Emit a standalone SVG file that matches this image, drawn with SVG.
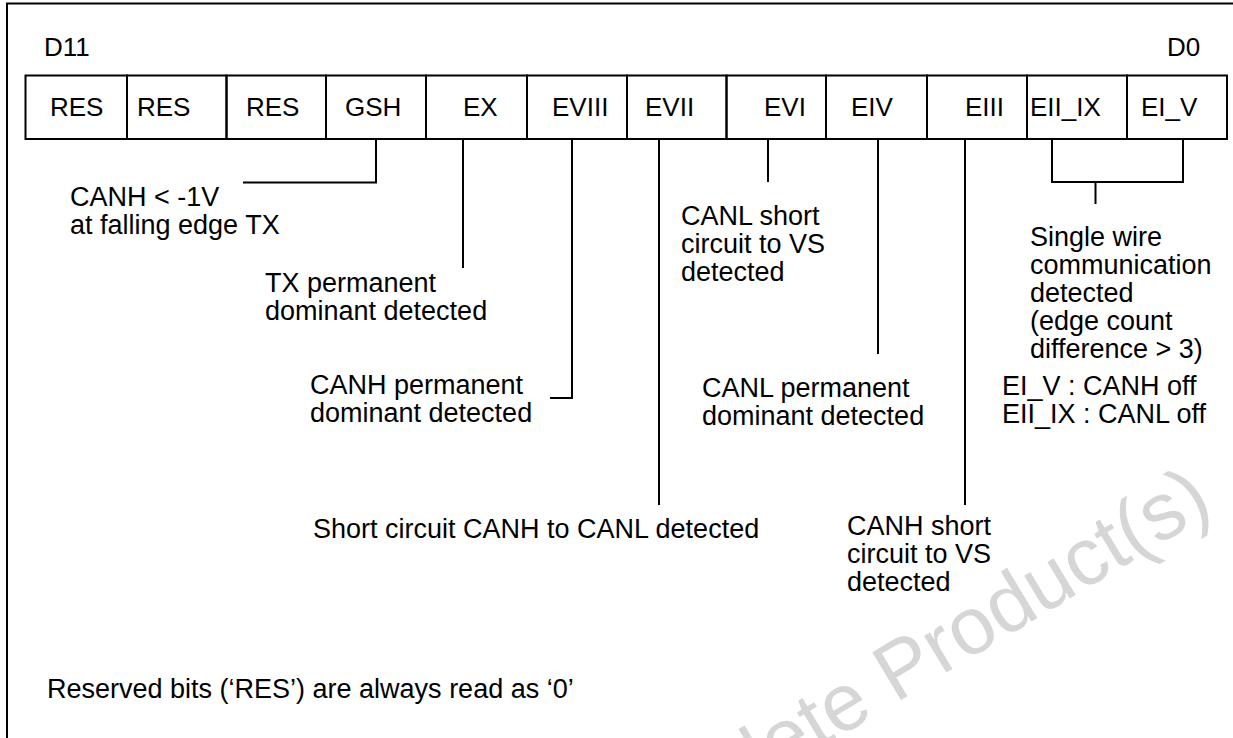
<svg xmlns="http://www.w3.org/2000/svg" width="1233" height="738" viewBox="0 0 1233 738">
<style>
text{font-family:"Liberation Sans",Arial,sans-serif;font-size:27px;fill:#000}
.cl{font-size:26px}
.cell{fill:none;stroke:#000;stroke-width:2}
.ln{fill:none;stroke:#000;stroke-width:2}
.wm{font-size:81px;fill:#d6d6d6}
</style>
<rect width="1233" height="738" fill="#fff"/>
<g id="watermark"><text class="wm" transform="translate(598,882) rotate(-31)">Obsolete Product(s)</text></g>
<g id="frame"><path class="ln" d="M7,738 V3.5 H1233"/></g>
<g id="bit-labels"><text class="cl" x="44" y="56">D11</text><text class="cl" x="1167" y="56">D0</text></g>
<g id="register">
<g id="b11"><rect class="cell" x="25.5" y="75.5" width="101.5" height="63.5"/><text class="cl" x="50" y="116">RES</text></g>
<g id="b10"><rect class="cell" x="127" y="75.5" width="99.5" height="63.5"/><text class="cl" x="137" y="116">RES</text></g>
<g id="b9"><rect class="cell" x="226.5" y="75.5" width="99.5" height="63.5"/><text class="cl" x="246" y="116">RES</text></g>
<g id="b8"><rect class="cell" x="326" y="75.5" width="100" height="63.5"/><text class="cl" x="345" y="116">GSH</text></g>
<g id="b7"><rect class="cell" x="426" y="75.5" width="101" height="63.5"/><text class="cl" x="463" y="116">EX</text></g>
<g id="b6"><rect class="cell" x="527" y="75.5" width="100" height="63.5"/><text class="cl" x="552" y="116">EVIII</text></g>
<g id="b5"><rect class="cell" x="627" y="75.5" width="99.5" height="63.5"/><text class="cl" x="645" y="116">EVII</text></g>
<g id="b4"><rect class="cell" x="726.5" y="75.5" width="99.5" height="63.5"/><text class="cl" x="764" y="116">EVI</text></g>
<g id="b3"><rect class="cell" x="826" y="75.5" width="101" height="63.5"/><text class="cl" x="851" y="116">EIV</text></g>
<g id="b2"><rect class="cell" x="927" y="75.5" width="100" height="63.5"/><text class="cl" x="965" y="116">EIII</text></g>
<g id="b1"><rect class="cell" x="1027" y="75.5" width="100" height="63.5"/><text class="cl" x="1030" y="116">EII_IX</text></g>
<g id="b0"><rect class="cell" x="1127" y="75.5" width="100" height="63.5"/><text class="cl" x="1141" y="116">EI_V</text></g>
</g>
<g id="connectors">
<path class="ln" d="M376,139 V182.5 H243"/>
<path class="ln" d="M463,139 V268"/>
<path class="ln" d="M572,139 V398 H550"/>
<path class="ln" d="M659,139 V505"/>
<path class="ln" d="M768,139 V182"/>
<path class="ln" d="M878,139 V354"/>
<path class="ln" d="M965,139 V505"/>
<path class="ln" d="M1052,139 V182 H1183 V139"/>
<path class="ln" d="M1095.5,182 V204"/>
</g>
<g id="desc-gsh"><text x="70" y="206">CANH &lt; -1V</text><text x="70" y="234">at falling edge TX</text></g>
<g id="desc-ex"><text x="265" y="292">TX permanent</text><text x="265" y="320">dominant detected</text></g>
<g id="desc-eviii"><text x="310" y="394">CANH permanent</text><text x="310" y="422">dominant detected</text></g>
<g id="desc-evii"><text x="313" y="538">Short circuit CANH to CANL detected</text></g>
<g id="desc-evi"><text x="681" y="225">CANL short</text><text x="681" y="253">circuit to VS</text><text x="681" y="281">detected</text></g>
<g id="desc-eiv"><text x="702" y="397">CANL permanent</text><text x="702" y="425">dominant detected</text></g>
<g id="desc-eiii"><text x="847" y="535">CANH short</text><text x="847" y="563">circuit to VS</text><text x="847" y="591">detected</text></g>
<g id="desc-ei"><text x="1030" y="246">Single wire</text><text x="1030" y="274">communication</text><text x="1030" y="302">detected</text><text x="1030" y="330">(edge count</text><text x="1030" y="358">difference &gt; 3)</text><text x="1002" y="395">EI_V : CANH off</text><text x="1002" y="423">EII_IX : CANL off</text></g>
<g id="note"><text x="47" y="698">Reserved bits (‘RES’) are always read as ‘0’</text></g>
</svg>
